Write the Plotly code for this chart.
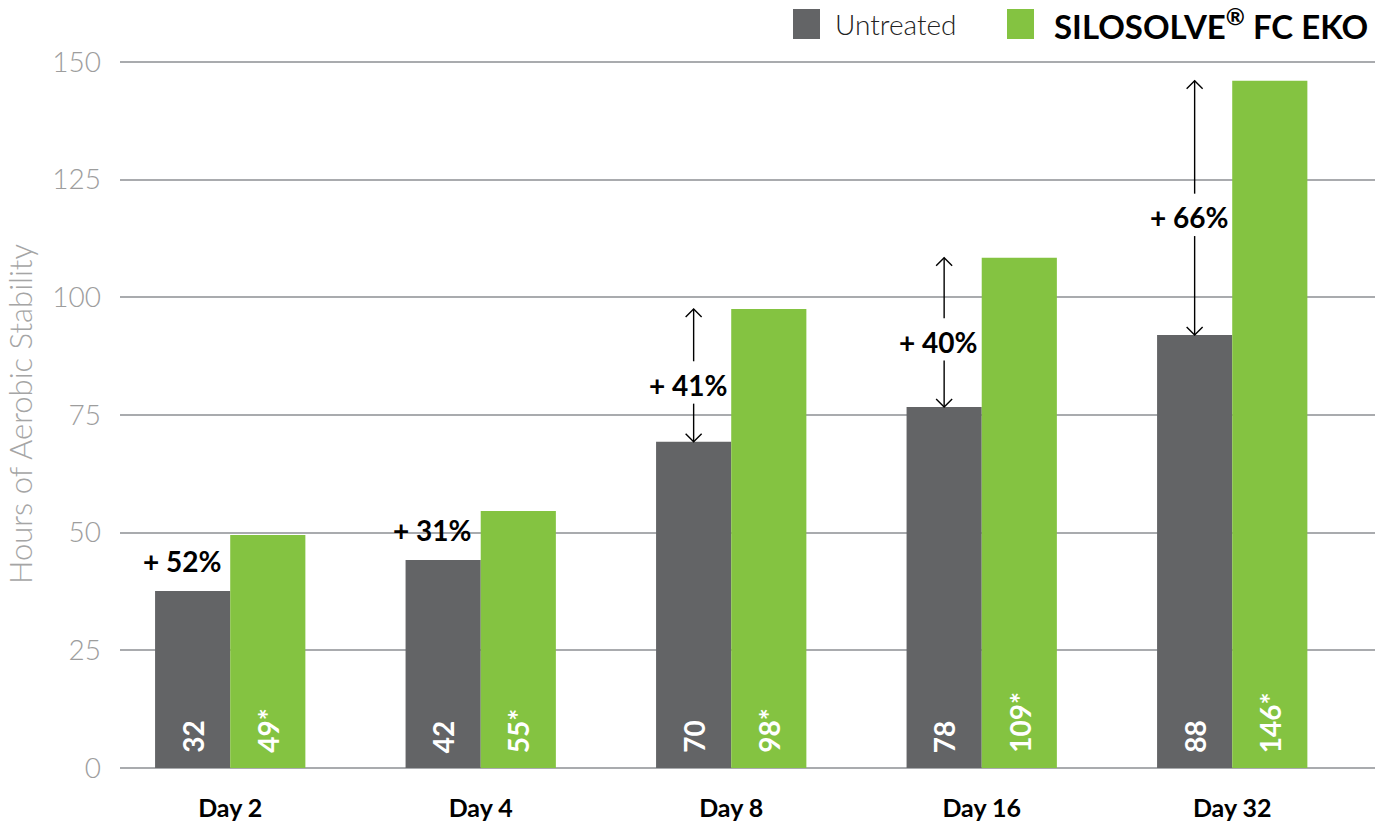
import plotly.graph_objects as go

# ---- data ----
categories = ["Day 2", "Day 4", "Day 8", "Day 16", "Day 32"]
series_names = ["Untreated", "SILOSOLVE® FC EKO"]
untreated_values = [37.6, 44.2, 69.3, 76.7, 92.0]
treated_values = [49.5, 54.6, 97.5, 108.4, 146.0]
untreated_labels = ["32", "42", "70", "78", "88"]
treated_labels = ["49*", "55*", "98*", "109*", "146*"]
increase_labels = ["+ 52%", "+ 31%", "+ 41%", "+ 40%", "+ 66%"]
show_arrow = [False, False, True, True, True]
y_ticks = [0, 25, 50, 75, 100, 125, 150]
y_title = "Hours of Aerobic Stability"

# ---- style ----
GRAY = "#636466"
GREEN = "#84c341"
GRID = "#a9abae"
TICK_GRAY = "#9d9d9d"
FONT = "Lato"
W, H = 1382, 825
L, R, T, B = 120, 7, 60, 57
PW, PH = W - L - R, H - T - B
BAR_OFF = 0.15
HEAD = 8  # arrow head size in px


def px_x(px):
    return (px - L) / PW


def px_y(py):
    return 1 - (py - T) / PH


fig = go.Figure()
fig.add_bar(x=categories, y=untreated_values, name=series_names[0],
            marker=dict(color=GRAY, line=dict(width=0)), hoverinfo="skip")
fig.add_bar(x=categories, y=treated_values, name=series_names[1],
            marker=dict(color=GREEN, line=dict(width=0)), hoverinfo="skip")

annotations = []
shapes = []
for i, cat in enumerate(categories):
    u, t = untreated_values[i], treated_values[i]
    xu, xt = i - BAR_OFF, i + BAR_OFF
    # inner rotated labels
    for xx, lab in ((xu, untreated_labels[i]), (xt, treated_labels[i])):
        annotations.append(dict(
            x=xx, y=0, xref="x", yref="y", text=lab, showarrow=False,
            textangle=-90, yanchor="bottom", xanchor="center", yshift=13,
            font=dict(family=FONT, size=28, color="white", weight="bold")))
    if show_arrow[i]:
        ty = (u + t) / 2 - 2
        annotations.append(dict(
            x=xu, y=ty, xref="x", yref="y", text=increase_labels[i],
            showarrow=False, yanchor="middle", xanchor="center", xshift=-6,
            font=dict(family=FONT, size=28, color="black", weight="bold")))
        # upward arrow
        shapes.append(dict(type="line", xref="x", yref="y", x0=xu, x1=xu,
                           y0=ty + 5, y1=t, line=dict(color="black", width=1.4)))
        shapes.append(dict(type="path", xref="x", yref="y",
                           xsizemode="pixel", ysizemode="pixel",
                           xanchor=xu, yanchor=t,
                           path=f"M{-HEAD},{-HEAD} L0,0 L{HEAD},{-HEAD}",
                           line=dict(color="black", width=1.4)))
        # downward arrow
        shapes.append(dict(type="line", xref="x", yref="y", x0=xu, x1=xu,
                           y0=ty - 4, y1=u, line=dict(color="black", width=1.4)))
        shapes.append(dict(type="path", xref="x", yref="y",
                           xsizemode="pixel", ysizemode="pixel",
                           xanchor=xu, yanchor=u,
                           path=f"M{-HEAD},{HEAD} L0,0 L{HEAD},{HEAD}",
                           line=dict(color="black", width=1.4)))
    else:
        annotations.append(dict(
            x=xu, y=u, xref="x", yref="y", text=increase_labels[i],
            showarrow=False, yanchor="bottom", xanchor="center",
            xshift=-11, yshift=11,
            font=dict(family=FONT, size=28, color="black", weight="bold")))

# custom legend (large squares)
shapes += [
    dict(type="rect", xref="paper", yref="paper",
         x0=px_x(793), x1=px_x(820), y0=px_y(39), y1=px_y(9),
         fillcolor=GRAY, line=dict(width=0)),
    dict(type="rect", xref="paper", yref="paper",
         x0=px_x(1007), x1=px_x(1034), y0=px_y(39), y1=px_y(9),
         fillcolor=GREEN, line=dict(width=0)),
]
annotations.append(dict(
    x=px_x(833), y=px_y(24), xref="paper", yref="paper", text=series_names[0],
    showarrow=False, xanchor="left", yanchor="middle",
    font=dict(family=FONT, size=28, color="#222222", weight=300)))
annotations.append(dict(
    x=px_x(1052), y=px_y(24), xref="paper", yref="paper",
    text=series_names[1].replace("®", "<sup>®</sup>"),
    showarrow=False, xanchor="left", yanchor="middle",
    font=dict(family=FONT, size=33, color="black", weight="bold")))

fig.update_layout(
    template="none",
    width=W, height=H,
    margin=dict(l=L, r=R, t=T, b=B, pad=0),
    paper_bgcolor="white", plot_bgcolor="white",
    barmode="group", bargap=0.4, bargroupgap=0,
    showlegend=False,
    annotations=annotations,
    shapes=shapes,
    font=dict(family=FONT),
)
fig.update_xaxes(
    type="category", range=[-0.44, 4.57], showgrid=False, showline=False,
    zeroline=False, ticks="", automargin=False, ticklabelstandoff=23,
    tickfont=dict(family=FONT, size=25, color="black", weight="bold"),
)
fig.update_yaxes(
    range=[0, 150.4], tickvals=y_ticks, showgrid=True, gridcolor=GRID,
    gridwidth=1.5, zeroline=True, zerolinecolor=GRID, zerolinewidth=1.5,
    showline=False, ticks="", automargin=False, ticklabelstandoff=18,
    tickfont=dict(family=FONT, size=28, color=TICK_GRAY, weight=300),
    title=dict(text=y_title, standoff=10,
               font=dict(family=FONT, size=31, color="#a5a5a5", weight=300)),
)

fig.write_html("out.html")
